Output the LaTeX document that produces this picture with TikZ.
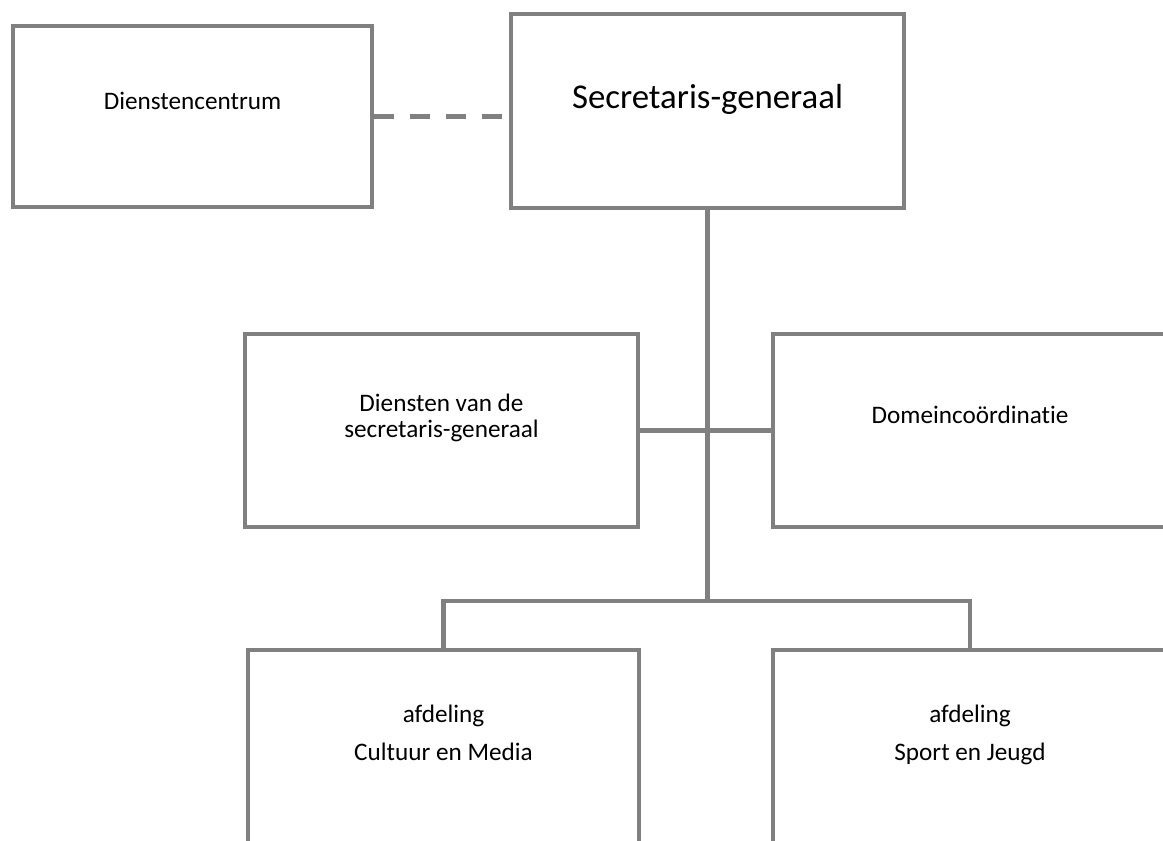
\documentclass[tikz,border=0pt]{standalone}
\usepackage{fontspec}
\setmainfont{Carlito}[Ligatures=NoCommon]
\usepackage{xcolor}
\usepackage{tikz}
\definecolor{linegray}{HTML}{808080}

\begin{document}
\begin{tikzpicture}[x=0.5pt, y=-0.5pt,
    box/.style={rectangle, draw=linegray, line width=2.25pt, inner sep=0pt},
    txt/.style={inner sep=0pt, align=center, font=\fontsize{12.6}{13}\selectfont},
    link/.style={draw=linegray, line width=2.25pt}]
                                \useasboundingbox (0, 0) rectangle (1163, 841);
                                \clip (0, 0) rectangle (1163, 841);

                                \node (dc) at (192.5, 116.5) [box, minimum width=179.5pt, minimum height=90.5pt] {};
                                \node (sg) at (707.5, 111) [box, minimum width=196.5pt, minimum height=97pt] {};
                                \node (ds) at (441.5, 430.5) [box, minimum width=196.5pt, minimum height=96.5pt] {};
                                \node (dom) at (970, 430.5) [box, minimum width=197pt, minimum height=96.5pt] {};
                                \node (cm) at (443.5, 850) [box, minimum width=195.5pt, minimum height=200pt] {};
                                \node (sj) at (970, 850) [box, minimum width=197pt, minimum height=200pt] {};
                                \coordinate (hub) at (707.5, 601);

                                \node (dctext) at (192.5, 109) [txt, anchor=base] {Dienstencentrum};
                                \node (sgtext) at (707.5, 108) [txt, anchor=base, font=\fontsize{17.4}{21}\selectfont] {Secretaris-generaal};
                                \node (dstext) at (441.5, 437) [txt, anchor=base] {Diensten van de\\secretaris-generaal};
                                \node (domtext) at (970, 423) [txt, anchor=base] {Domeincoördinatie};
                                \node (cmtext) at (443.5, 760) [txt, anchor=base] {afdeling\\[6pt]Cultuur en Media};
                                \node (sjtext) at (970, 760) [txt, anchor=base] {afdeling\\[6pt]Sport en Jeugd};

                                \draw[link, dash pattern=on 10pt off 8pt] (dc.east) -- (dc.east -| sg.west);
                                \draw[link] (sg.south) -- (hub);
                                \draw[link] (ds.east) -- (dom.west);
                                \draw[link] (cm.north) -- (cm.north |- hub) -- (sj.north |- hub) -- (sj.north);
                            \end{tikzpicture}
\end{document}
